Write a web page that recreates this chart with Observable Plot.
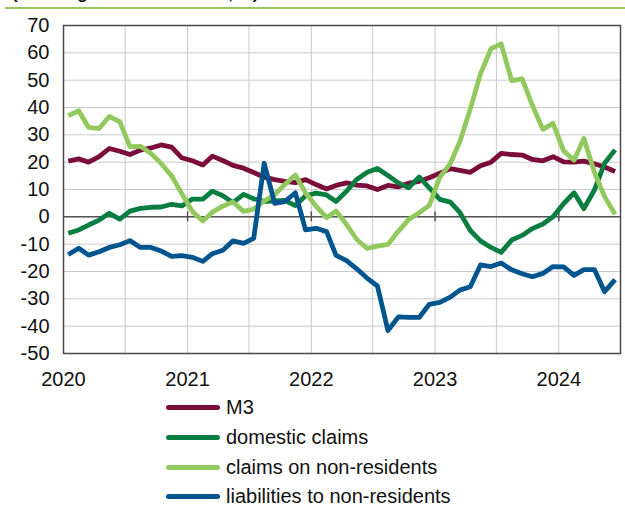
<!DOCTYPE html>
<html>
<head>
<meta charset="utf-8">
<script src="https://cdn.jsdelivr.net/npm/d3@7"></script>
<script src="https://cdn.jsdelivr.net/npm/@observablehq/plot@0.6"></script>
<style>
  html, body { margin: 0; padding: 0; background: #fff; width: 625px; height: 507px; overflow: hidden; position: relative; font-family: "Liberation Sans", Arial, sans-serif; }
  #title { position: absolute; left: 12px; top: -15px; font-size: 17px; line-height: 17px; font-weight: bold; color: #111; white-space: nowrap; }
  #rule { position: absolute; left: 5px; right: 0; top: 6.5px; height: 2px; background: #92c95f; }
  #chart { position: absolute; left: 0; top: 10px; }
  #legend { position: absolute; left: 166px; top: 393px; }
  .row { display: flex; align-items: center; height: 29.7px; font-size: 20px; color: #111; }
  .sw { width: 54px; height: 5px; border-radius: 3px; margin-right: 6px; }
</style>
</head>
<body>
<div id="title">(annual growth rates of M3, %)</div>
<div id="rule"></div>
<div id="chart"></div>
<div id="legend"></div>
<script>
// ---- data (monthly, Jan 2020 – Jun 2024) ----
const startYear = 2020;
const seriesNames = ["M3", "domestic claims", "claims on non-residents", "liabilities to non-residents"];
const seriesColors = ["#7b0d3a", "#0a7e40", "#92c95f", "#00558f"];

const m3 = [20.4, 21.2, 20.0, 22.0, 25.0, 24.0, 22.8, 24.4, 25.2, 26.3, 25.5, 21.6,
            20.5, 19.0, 22.2, 20.6, 18.8, 17.8, 16.2, 14.5, 13.6, 13.0, 12.5, 13.6,
            11.8, 10.2, 11.5, 12.4, 11.6, 11.3, 10.0, 11.5, 11.0, 12.3, 13.0, 14.3,
            16.0, 17.6, 17.0, 16.3, 18.7, 20.0, 23.2, 22.8, 22.6, 21.0, 20.5, 22.0,
            20.1, 20.0, 20.4, 19.4, 18.2, 16.6];
const domesticClaims = [-6.0, -4.8, -3.0, -1.2, 1.3, -0.8, 2.1, 3.1, 3.5, 3.6, 4.6, 4.0,
            6.5, 6.5, 9.4, 7.7, 5.2, 8.2, 6.6, 5.7, 5.8, 6.0, 4.1, 7.7,
            8.7, 8.0, 5.6, 9.4, 13.7, 16.3, 17.7, 15.1, 12.4, 10.6, 14.6, 10.6,
            6.4, 5.4, 1.6, -5.0, -8.8, -11.2, -13.0, -8.5, -6.8, -4.3, -2.6, 0.0,
            4.8, 8.8, 3.0, 9.8, 19.6, 24.5];
const claimsNonRes = [37.0, 38.8, 32.7, 32.3, 36.7, 34.8, 25.7, 25.8, 23.2, 19.5, 15.0, 8.5,
            2.0, -1.5, 1.7, 3.9, 5.4, 2.0, 2.8, 5.8, 8.2, 11.8, 15.3, 8.8,
            3.9, -0.3, 2.1, -2.8, -8.3, -11.6, -10.7, -10.1, -5.2, -1.0, 1.5, 4.2,
            14.5, 19.5, 27.5, 39.5, 52.3, 61.5, 63.3, 49.8, 50.5, 40.8, 32.0, 34.2,
            24.2, 20.7, 28.7, 16.3, 7.4, 0.9];
const liabNonRes = [-13.8, -11.5, -14.0, -12.8, -11.2, -10.2, -8.7, -11.2, -11.2, -12.5, -14.5, -14.2,
            -14.8, -16.3, -13.5, -12.2, -8.8, -9.7, -7.9, 19.6, 4.9, 5.6, 8.8, -4.8,
            -4.2, -5.4, -14.1, -16.0, -19.0, -22.5, -25.3, -41.6, -36.6, -36.8, -36.8, -32.0,
            -31.3, -29.4, -26.8, -25.6, -17.6, -18.2, -16.9, -19.4, -20.8, -21.9, -20.7, -18.2,
            -18.3, -21.4, -19.3, -19.3, -27.4, -23.0];

const yTicks = [70, 60, 50, 40, 30, 20, 10, 0, -10, -20, -30, -40, -50];
const yearTicks = [2020, 2021, 2022, 2023, 2024];

// ---- build table ----
const allSeries = [m3, domesticClaims, claimsNonRes, liabNonRes];
const rows = [];
allSeries.forEach((vals, s) => {
  vals.forEach((v, i) => {
    rows.push({series: seriesNames[s], date: new Date(Date.UTC(startYear, i, 15)), value: v});
  });
});
const yearDates = yearTicks.map(y => new Date(Date.UTC(y, 0, 1)));
const halfYearDates = [];
yearTicks.forEach(y => { halfYearDates.push(new Date(Date.UTC(y, 0, 1))); halfYearDates.push(new Date(Date.UTC(y, 6, 1))); });

const chart = Plot.plot({
  width: 625,
  height: 390,
  marginTop: 15,
  marginBottom: 47,
  marginLeft: 63,
  marginRight: 5,
  style: {fontFamily: "'Liberation Sans', Arial, sans-serif", fontSize: "20px", color: "#111", background: "transparent", overflow: "visible"},
  x: {type: "utc", domain: [new Date(Date.UTC(2020, 0, 1)), new Date(Date.UTC(2024, 6, 1))]},
  y: {domain: [-50, 70]},
  color: {domain: seriesNames, range: seriesColors},
  marks: [
    Plot.gridY(yTicks, {stroke: "#c9c9c9", strokeOpacity: 1, strokeWidth: 1}),
    Plot.gridX(halfYearDates, {stroke: "#c9c9c9", strokeOpacity: 1, strokeWidth: 1}),
    Plot.ruleY([0], {stroke: "#555", strokeWidth: 1.5}),
    Plot.ruleX(yearDates.slice(1), {y1: -1.8, y2: 1.8, stroke: "#555", strokeWidth: 1.5}),
    Plot.frame({stroke: "#4a4a4a", strokeWidth: 1.5}),
    Plot.axisY(yTicks, {tickSize: 0, tickPadding: 14, fontSize: 20, tickFormat: d => String(d), label: null}),
    Plot.axisX(yearDates, {tickSize: 0, tickPadding: 18, fontSize: 20, tickFormat: d => String(d.getUTCFullYear()), label: null}),
    Plot.line(rows, {x: "date", y: "value", z: "series", stroke: "series", strokeWidth: 4.8, strokeLinejoin: "round", strokeLinecap: "butt"})
  ]
});
document.getElementById("chart").appendChild(chart);

// ---- legend ----
const legend = document.getElementById("legend");
seriesNames.forEach((name, i) => {
  const row = document.createElement("div");
  row.className = "row";
  const sw = document.createElement("span");
  sw.className = "sw";
  sw.style.background = seriesColors[i];
  const label = document.createElement("span");
  label.textContent = name;
  row.appendChild(sw);
  row.appendChild(label);
  legend.appendChild(row);
});
</script>
</body>
</html>
